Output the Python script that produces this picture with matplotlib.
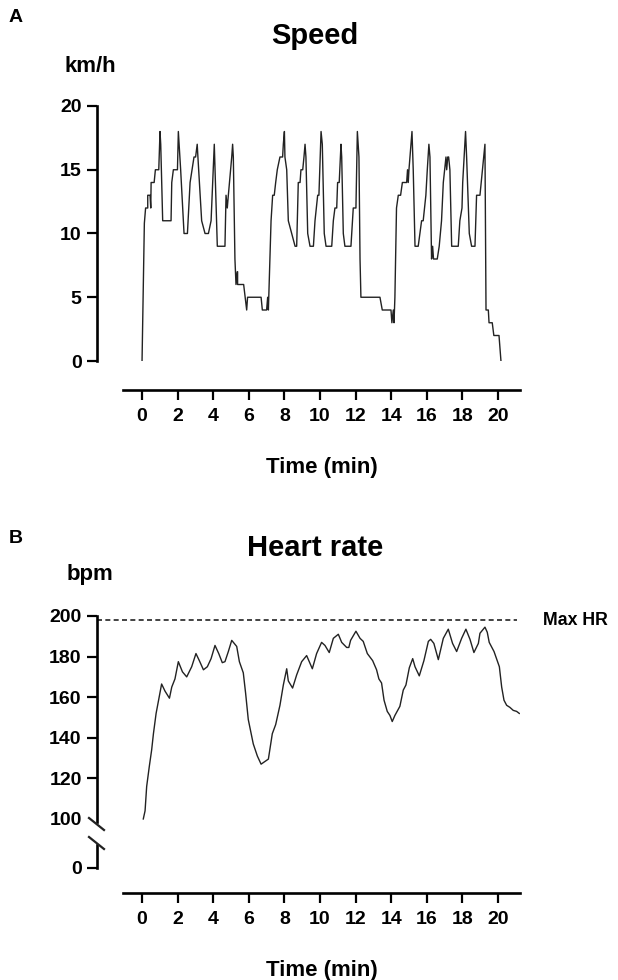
import matplotlib
matplotlib.use("Agg")
import matplotlib.pyplot as plt
from matplotlib.lines import Line2D

plt.rcParams['font.family'] = ['Liberation Sans', 'DejaVu Sans']
plt.rcParams['font.weight'] = 'bold'

# Speed (km/h) vs time (min)
speed_t = [0.0, 0.13, 0.2, 0.32, 0.32, 0.45, 0.49, 0.51, 0.68, 0.75, 0.94, 1.01, 1.05, 1.16, 1.63,
           1.67, 1.76, 1.99, 2.04, 2.17, 2.36, 2.55, 2.70, 2.92, 3.01, 3.10, 3.14, 3.35, 3.54, 3.73,
           3.88, 4.06, 4.23, 4.66, 4.72, 4.79, 4.85, 4.98, 5.04, 5.09, 5.13, 5.22, 5.28, 5.35, 5.37,
           5.37, 5.71, 5.88, 5.93, 6.69, 6.76, 7.00, 7.06, 7.10, 7.25, 7.34, 7.43, 7.51, 7.60, 7.75,
           7.90, 7.94, 8.00, 8.03, 8.13, 8.22, 8.60, 8.69, 8.78, 8.88, 8.93, 9.03, 9.10, 9.16, 9.21,
           9.31, 9.44, 9.63, 9.72, 9.87, 9.94, 10.06, 10.13, 10.24, 10.34, 10.66, 10.75, 10.84, 10.94,
           10.99, 11.08, 11.18, 11.22, 11.31, 11.40, 11.74, 11.87, 12.02, 12.10, 12.19, 12.25, 12.30,
           13.37, 13.50, 13.99, 14.04, 14.12, 14.16, 14.21, 14.30, 14.40, 14.53, 14.63, 14.87, 14.92,
           14.96, 15.00, 15.11, 15.17, 15.24, 15.34, 15.52, 15.71, 15.80, 15.95, 16.03, 16.12, 16.18,
           16.27, 16.33, 16.38, 16.59, 16.70, 16.83, 16.93, 17.08, 17.12, 17.18, 17.23, 17.30, 17.40,
           17.77, 17.86, 17.98, 18.02, 18.18, 18.24, 18.39, 18.52, 18.71, 18.80, 18.99, 19.27, 19.33,
           19.46, 19.50, 19.68, 19.77, 20.06, 20.17]
speed_v = [0, 10.8, 12, 12, 13, 13, 12, 14, 14, 15, 15, 18, 17, 11, 11,
           14, 15, 15, 18, 15, 10, 10, 14, 16, 16, 17, 16, 11, 10, 10,
           11, 17, 9, 9, 13, 12, 13, 15, 16, 17, 16, 8, 6, 7, 7,
           6, 6, 4, 5, 5, 4, 4, 5, 4, 11, 13, 13, 14, 15, 16,
           16, 17, 18, 16, 15, 11, 9, 9, 14, 14, 15, 15, 16, 17, 16,
           10, 9, 9, 11, 13, 13, 18, 17, 10, 9, 9, 11, 12, 12,
           14, 14, 17, 16, 10, 9, 9, 12, 12, 18, 16, 8, 5,
           5, 4, 4, 3, 4, 3, 5, 12, 13, 13, 14, 14, 15,
           14, 15, 17, 18, 15, 9, 9, 11, 11, 13, 15, 17, 16,
           8, 9, 8, 8, 9, 11, 14, 16, 15, 16, 16, 15, 9,
           9, 11, 12, 14, 18, 16, 10, 9, 9, 13, 13, 17, 4,
           4, 3, 3, 2, 2, 0]

# Heart rate (bpm) vs time (min)
hr_t = [0.07, 0.17, 0.26, 0.41, 0.54, 0.64, 0.79, 0.94, 1.10, 1.29, 1.54, 1.67, 1.85, 2.04, 2.27,
        2.51, 2.79, 3.03, 3.22, 3.45, 3.67, 3.88, 4.10, 4.31, 4.51, 4.66, 4.85, 5.04, 5.32, 5.47,
        5.69, 5.82, 5.97, 6.25, 6.48, 6.69, 7.10, 7.32, 7.51, 7.75, 7.94, 8.13, 8.22, 8.46, 8.69,
        8.97, 9.25, 9.57, 9.81, 10.09, 10.28, 10.52, 10.75, 11.03, 11.22, 11.50, 11.62, 11.72, 12.02,
        12.25, 12.43, 12.66, 12.96, 13.18, 13.31, 13.46, 13.60, 13.78, 13.93, 14.06, 14.21, 14.49,
        14.68, 14.83, 15.02, 15.21, 15.34, 15.58, 15.84, 16.09, 16.22, 16.40, 16.65, 16.93, 17.21,
        17.45, 17.68, 17.96, 18.20, 18.43, 18.65, 18.90, 18.99, 19.27, 19.40, 19.51, 19.78, 20.08,
        20.21, 20.34, 20.49, 20.67, 20.86, 21.05, 21.20]
hr_v = [100, 104, 116, 126, 134, 142, 152, 159, 166.5, 163, 159.5, 165, 169, 177.5, 172.5,
        170, 175, 181.5, 178, 173.5, 175, 179, 185.5, 181.5, 177, 177.5, 182.5, 188, 185, 177.5,
        172, 162, 149, 137, 131, 127, 129.5, 142, 146.5, 156, 166, 174, 168, 164.5, 171,
        177.5, 180.5, 174, 181.5, 187, 185.5, 182, 189, 191, 187, 184.5, 184.5, 188, 192.5,
        189, 187.5, 181.5, 178, 173.5, 169, 167, 158.5, 153, 151, 148, 151, 155.5,
        163.5, 166, 174.5, 179, 175, 170.5, 178, 187.5, 188.5, 186.5, 178.5, 189, 193.5,
        186.5, 182.5, 189, 193.5, 188.5, 182, 186.5, 191.5, 194.5, 192, 187, 182.5, 175,
        165, 158.5, 156, 155, 153.5, 153, 152]

max_hr = 198

W, H = 618, 980
fig = plt.figure(figsize=(W / 100, H / 100), dpi=100)
PT = 72 / 100  # points per pixel


def rect(x0, y0, x1, y1):
    # pixel box (from top-left) -> figure fraction
    return [x0 / W, 1 - y1 / H, (x1 - x0) / W, (y1 - y0) / H]


def px(x, y):
    return x / W, 1 - y / H


xlim = (-1.07, 21.24)
xticks = list(range(0, 21, 2))
lw_sp = 1.9
fs_tick = 14
fs_lab = 16
fs_title = 21


def style(ax):
    for s in ['top', 'right']:
        ax.spines[s].set_visible(False)
    for s in ['left', 'bottom']:
        ax.spines[s].set_linewidth(lw_sp)
    ax.tick_params(width=1.6, length=7.5, labelsize=fs_tick, pad=3.5)
    ax.tick_params(axis='x', pad=5.5)
    for lab in ax.get_xticklabels() + ax.get_yticklabels():
        lab.set_fontweight('bold')


# ---- A: speed
ax1 = fig.add_axes(rect(123, 106, 520, 361))
ax1.plot(speed_t, speed_v, color='#222222', lw=1.0)
ax1.set_xlim(*xlim)
ax1.set_ylim(0, 20)
ax1.set_yticks([0, 5, 10, 15, 20])
ax1.set_xticks(xticks)
ax1.spines['left'].set_position(('outward', 26 * PT))
ax1.spines['bottom'].set_position(('outward', 29 * PT))
style(ax1)
ax1.set_xlabel('Time (min)', fontsize=fs_lab, fontweight='bold', labelpad=23)

fig.text(*px(9, 18), 'A', fontsize=14, fontweight='bold', va='center', ha='left')
fig.text(*px(315, 36), 'Speed', fontsize=fs_title, fontweight='bold', va='center', ha='center')
fig.text(*px(90, 67), 'km/h', fontsize=fs_lab, fontweight='bold', va='center', ha='center')

# ---- B: heart rate (broken y axis)
ax2 = fig.add_axes(rect(123, 616, 520, 822))
ax2.plot(hr_t, hr_v, color='#222222', lw=1.0)
ax2.plot([-2.53, 21.07], [max_hr, max_hr], color='#222222', lw=1.2,
         ls=(0, (3, 2)), clip_on=False)
ax2.set_xlim(*xlim)
ax2.set_ylim(98.5, 200)
ax2.set_yticks([100, 120, 140, 160, 180, 200])
ax2.spines['left'].set_position(('outward', 26 * PT))
ax2.spines['bottom'].set_visible(False)
ax2.set_xticks([])
style(ax2)
ax2.yaxis.get_major_ticks()[0].tick1line.set_visible(False)
ax2.text(22.55, max_hr, 'Max HR', fontsize=12.8, fontweight='bold', va='center', ha='left')

ax3 = fig.add_axes(rect(123, 845, 520, 868))
ax3.set_xlim(*xlim)
ax3.set_ylim(0, 10)
ax3.set_yticks([0])
ax3.set_xticks(xticks)
ax3.spines['left'].set_position(('outward', 26 * PT))
ax3.spines['bottom'].set_position(('outward', 25 * PT))
style(ax3)
ax3.set_xlabel('Time (min)', fontsize=fs_lab, fontweight='bold', labelpad=23)

# break marks on the y axis
for cy in (824, 843):
    x0, y0 = px(89, cy - 6)
    x1, y1 = px(104, cy + 6)
    fig.add_artist(Line2D([x0, x1], [y0, y1], transform=fig.transFigure,
                          color='#222222', lw=1.6))

fig.text(*px(9, 538), 'B', fontsize=14, fontweight='bold', va='center', ha='left')
fig.text(*px(315, 548), 'Heart rate', fontsize=fs_title, fontweight='bold', va='center', ha='center')
fig.text(*px(90, 574), 'bpm', fontsize=fs_lab, fontweight='bold', va='center', ha='center')

fig.savefig('out.png', dpi=100)
